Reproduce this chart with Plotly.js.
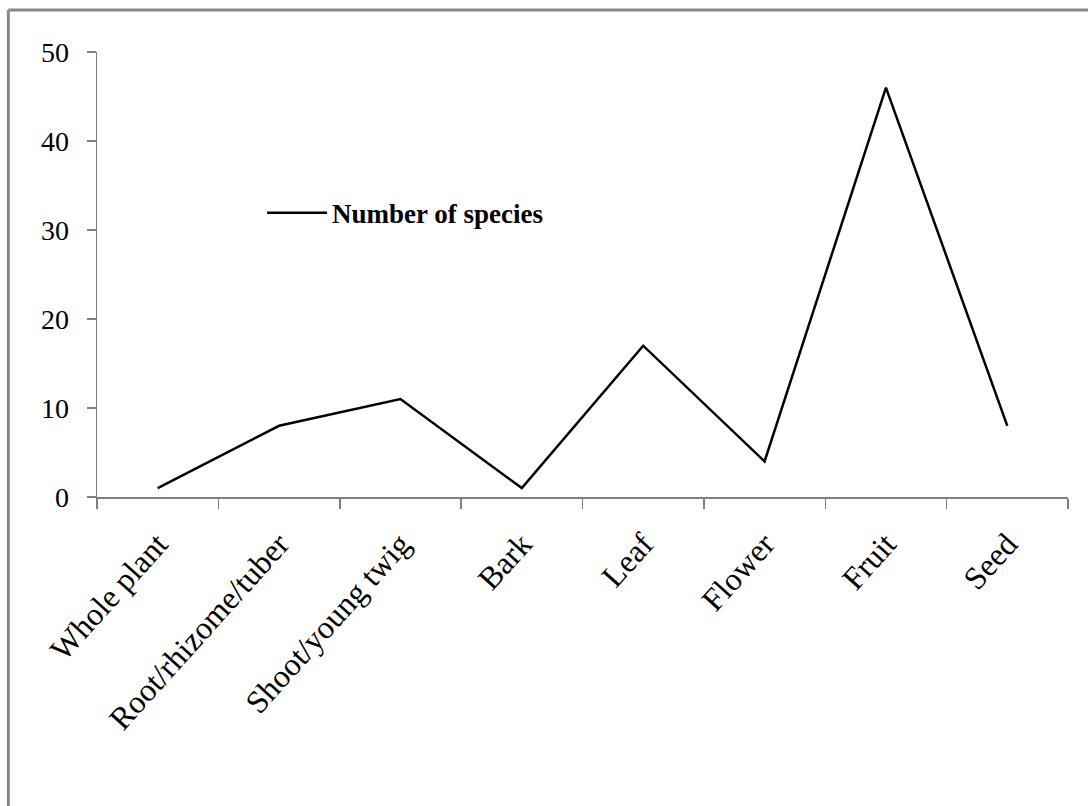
<!DOCTYPE html>
<html>
<head>
<meta charset="utf-8">
<script src="https://cdn.plot.ly/plotly-3.0.1.min.js"></script>
<style>html,body{margin:0;padding:0;background:#fff;}#chart{width:1088px;height:806px;}</style>
</head>
<body>
<div id="chart"></div>
<script>
var categories = ["Whole plant", "Root/rhizome/tuber", "Shoot/young twig", "Bark", "Leaf", "Flower", "Fruit", "Seed"];
var speciesCounts = [1, 8, 11, 1, 17, 4, 46, 8];
var seriesName = "Number of species";
var yTicks = [0, 10, 20, 30, 40, 50];

var serif = "Liberation Serif, Times New Roman, serif";

var trace = {
  type: "scatter",
  mode: "lines",
  x: categories,
  y: speciesCounts,
  name: seriesName,
  line: {color: "#000000", width: 2.5},
  showlegend: true
};

var borderColor = "#888888";
var layout = {
  width: 1088,
  height: 806,
  margin: {l: 97, r: 20, t: 52, b: 309},
  paper_bgcolor: "#ffffff",
  plot_bgcolor: "#ffffff",
  showlegend: true,
  legend: {
    x: 0.17, y: 0.638, xanchor: "left", yanchor: "middle",
    bgcolor: "rgba(0,0,0,0)",
    font: {family: serif, size: 27, color: "#000", weight: "bold"},
    itemwidth: 60
  },
  xaxis: {
    type: "category",
    range: [-0.5, 7.5],
    showline: true, linecolor: "#808080", linewidth: 1.5,
    ticks: "outside", ticklen: 10, tickcolor: "#808080", tickwidth: 1.5,
    tickson: "boundaries",
    showgrid: false, zeroline: false,
    tickangle: -48,
    ticklabelstandoff: 14,
    tickfont: {family: serif, size: 32, color: "#000"}
  },
  yaxis: {
    range: [0, 50],
    tickvals: yTicks,
    showline: true, linecolor: "#808080", linewidth: 1.5,
    ticks: "outside", ticklen: 9, tickcolor: "#808080", tickwidth: 1.5,
    showgrid: false, zeroline: false,
    ticklabelstandoff: 12,
    tickfont: {family: serif, size: 28, color: "#000"}
  },
  shapes: [
    {type: "line", xref: "paper", yref: "paper", x0: -0.0913, x1: -0.0913, y0: -0.75, y1: 1.0944, line: {color: borderColor, width: 3}},
    {type: "line", xref: "paper", yref: "paper", x0: -0.0913, x1: 1.1, y0: 1.0944, y1: 1.0944, line: {color: borderColor, width: 3}}
  ]
};

Plotly.newPlot("chart", [trace], layout, {displayModeBar: false, staticPlot: true});
</script>
</body>
</html>
